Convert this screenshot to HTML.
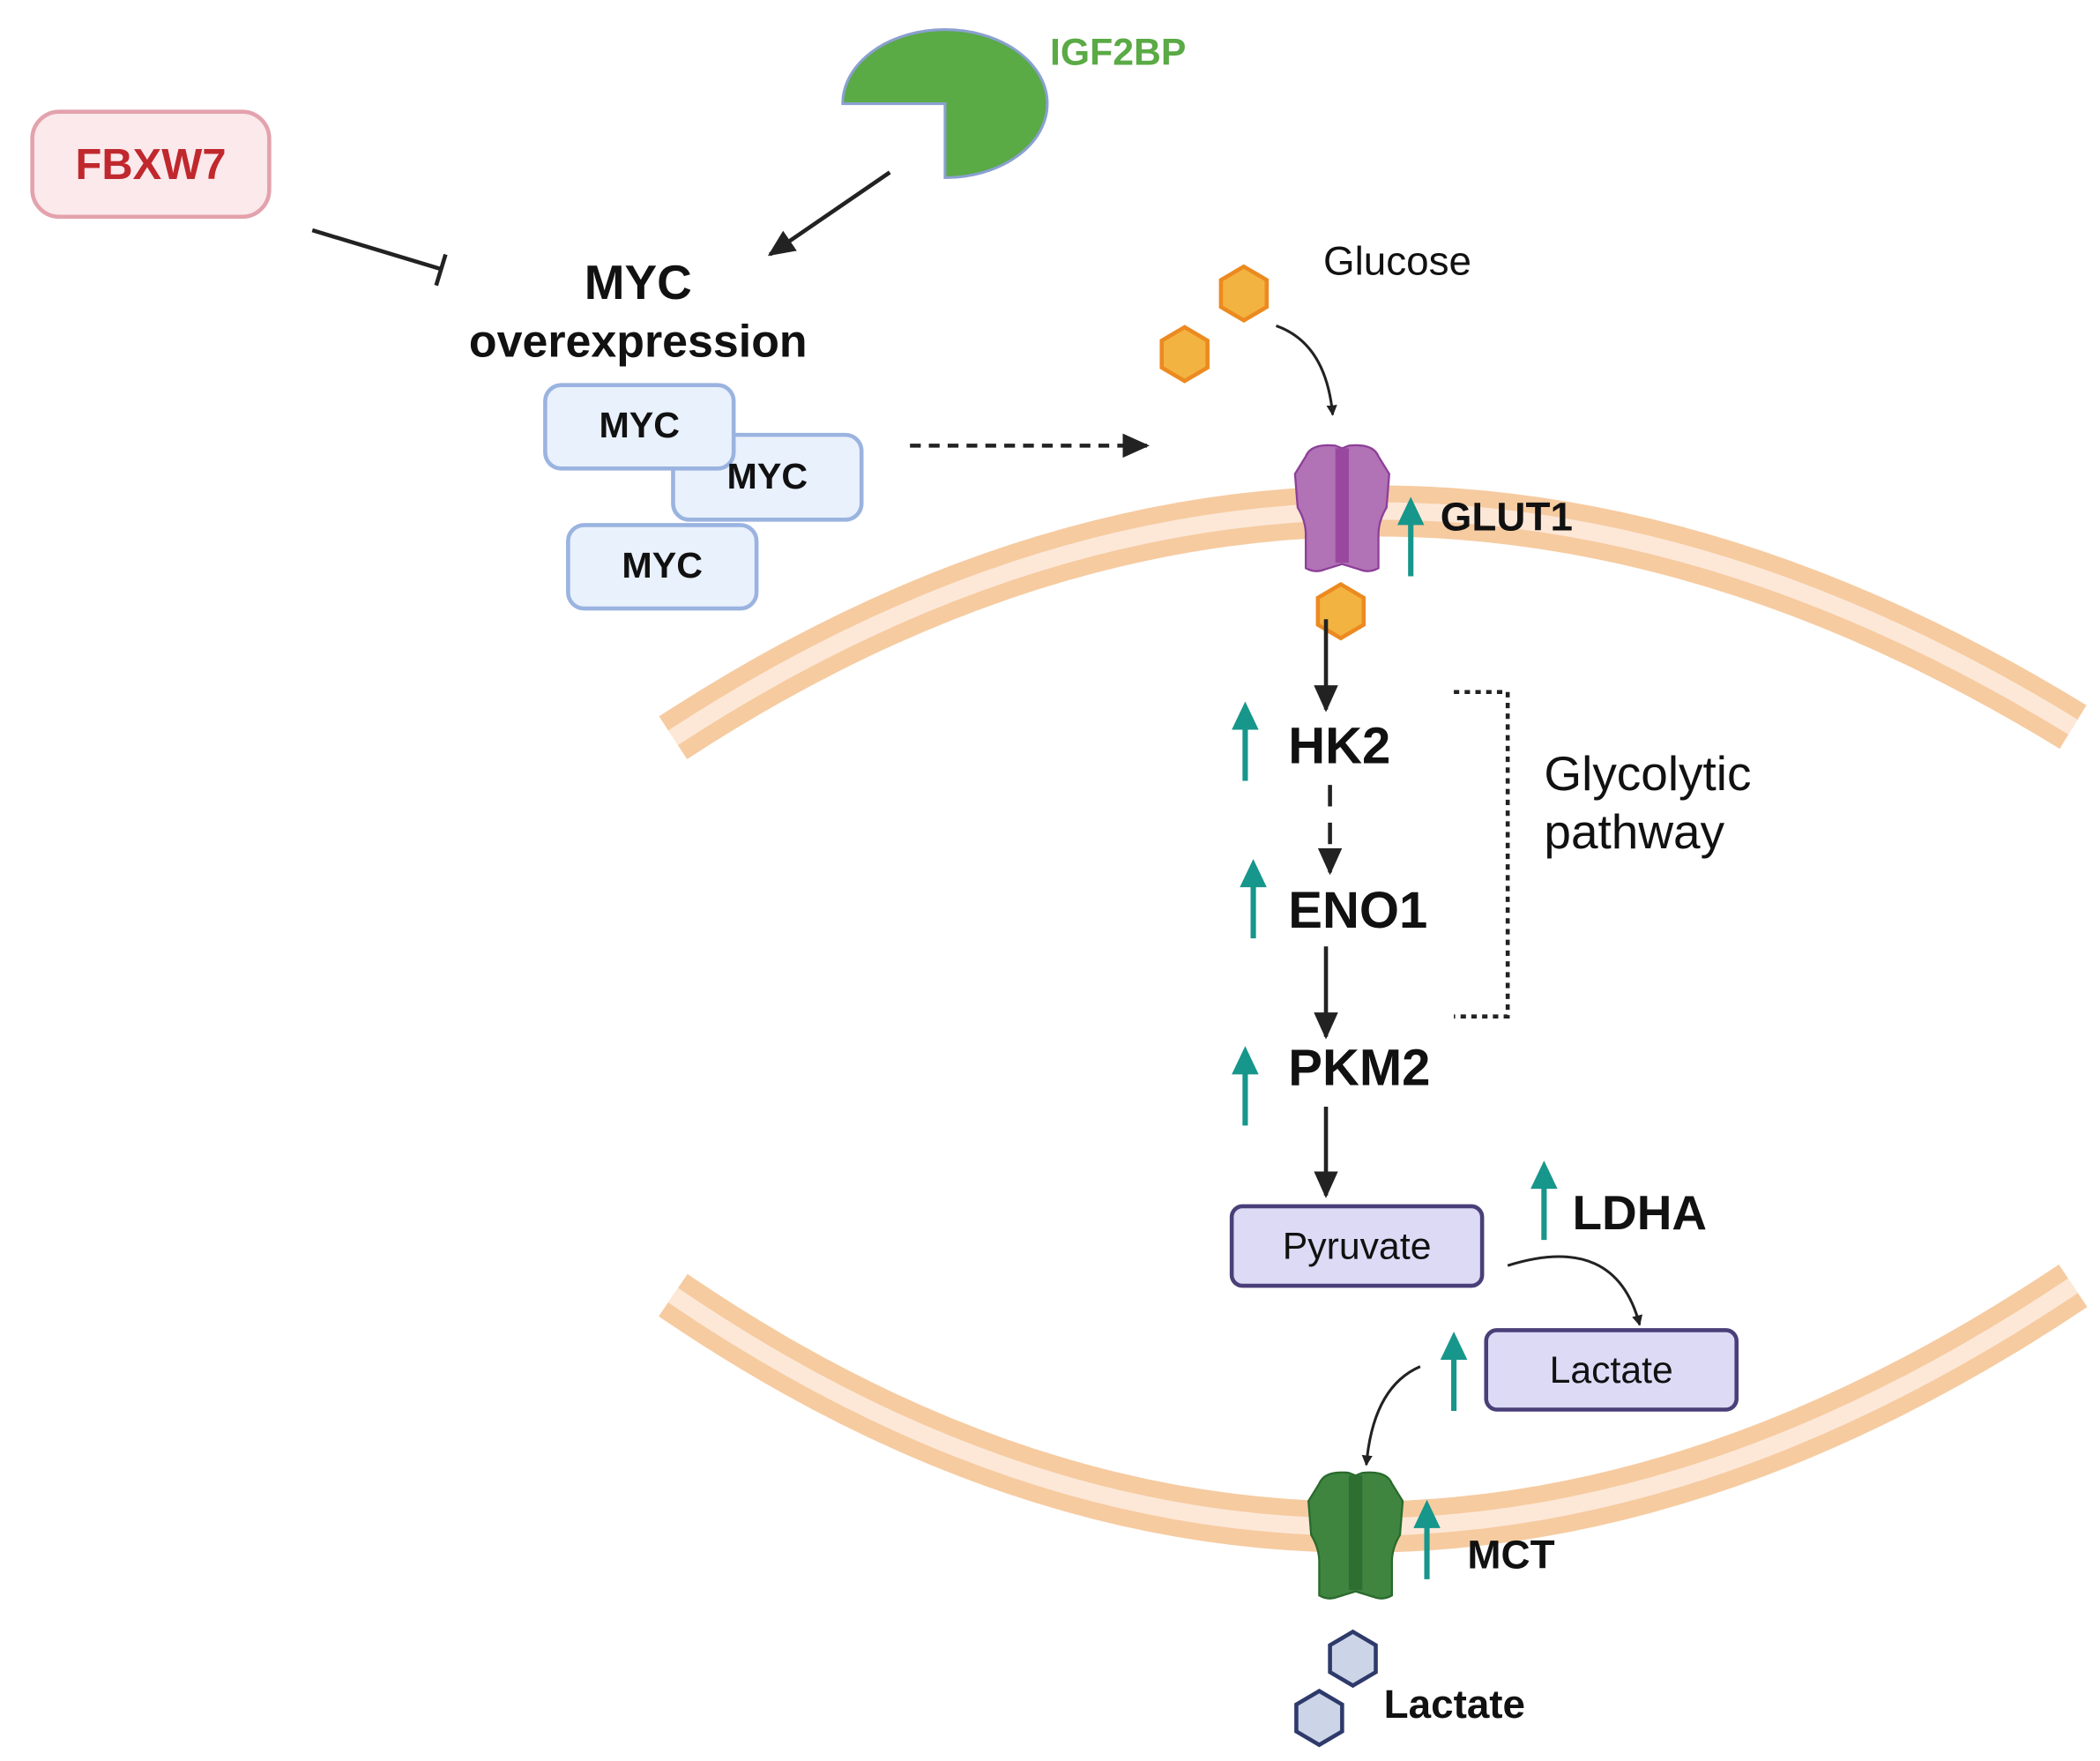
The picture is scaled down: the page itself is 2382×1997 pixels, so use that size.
<!DOCTYPE html>
<html><head><meta charset="utf-8"><style>
html,body{margin:0;padding:0;background:#fff}
svg{display:block}
text{font-family:"Liberation Sans",sans-serif}
</style></head><body>
<svg width="2382" height="1997" viewBox="0 0 1560 1308" preserveAspectRatio="none" xmlns="http://www.w3.org/2000/svg">
<defs>
<marker id="ah" markerWidth="10" markerHeight="10" refX="8" refY="5" orient="auto" markerUnits="userSpaceOnUse"><path d="M0,0 L10,5 L0,10 Z" fill="#222"/></marker>
<marker id="ahs" markerWidth="8" markerHeight="8" refX="7" refY="4" orient="auto" markerUnits="userSpaceOnUse"><path d="M0,0 L8,4 L0,8 Z" fill="#222"/></marker>
<marker id="ahb" markerWidth="20" markerHeight="18" refX="18" refY="9" orient="auto" markerUnits="userSpaceOnUse"><path d="M0,0 L20,9 L0,18 Z" fill="#222"/></marker>
<g id="tp"><path d="M8,12 Q12,2 30,4 L35,6 L40,4 Q58,2 62,12 L70,25 L68,50 Q62,60 62,70 L62,95 Q55,99 48,96 L35,92 L22,96 Q15,99 8,95 L8,70 Q8,60 2,50 L0,25 Z"/></g>
</defs>
<!-- membranes -->
<path d="M500,548 Q1010,215 1540,540" fill="none" stroke="#f6cba0" stroke-width="38"/>
<path d="M500,548 Q1010,215 1540,540" fill="none" stroke="#fde8d8" stroke-width="13"/>
<path d="M500,962 Q1010,1310 1540,955" fill="none" stroke="#f6cba0" stroke-width="38"/>
<path d="M500,962 Q1010,1310 1540,955" fill="none" stroke="#fde8d8" stroke-width="13"/>

<!-- FBXW7 -->
<rect x="24" y="83" width="176" height="78" rx="20" fill="#fbe9ec" stroke="#e3a2ad" stroke-width="3"/>
<text x="112" y="133" text-anchor="middle" font-size="32" font-weight="bold" fill="#c0282d">FBXW7</text>
<line x1="232" y1="171" x2="328" y2="200" stroke="#222" stroke-width="3"/>
<line x1="324" y1="212" x2="331" y2="189" stroke="#222" stroke-width="3"/>

<!-- IGF2BP -->
<path d="M702,77 L626,77 A76,55 0 1 1 702,132 Z" fill="#5aaa45" stroke="#8aa0d0" stroke-width="2"/>
<text x="780" y="48" font-size="28" font-weight="bold" fill="#5aaa45">IGF2BP</text>
<line x1="661" y1="128" x2="572" y2="189" stroke="#222" stroke-width="3" marker-end="url(#ahb)"/>

<text x="474" y="222" text-anchor="middle" font-size="36" font-weight="bold" fill="#111">MYC</text>
<text x="474" y="265" text-anchor="middle" font-size="34" font-weight="bold" fill="#111">overexpression</text>

<g fill="#e9f1fc" stroke="#9ab3e0" stroke-width="3">
<rect x="500" y="323" width="140" height="63" rx="12"/>
<rect x="405" y="286" width="140" height="62" rx="12"/>
<rect x="422" y="390" width="140" height="62" rx="12"/>
</g>
<g font-size="27" font-weight="bold" fill="#111" text-anchor="middle">
<text x="475" y="325">MYC</text>
<text x="570" y="363">MYC</text>
<text x="492" y="429">MYC</text>
</g>
<line x1="676" y1="331" x2="852" y2="331" stroke="#222" stroke-width="3" stroke-dasharray="8,6" marker-end="url(#ahb)"/>

<!-- glucose -->
<g fill="#f3b341" stroke="#ec8a20" stroke-width="3">
<polygon points="924,198 941,208 941,228 924,238 907,228 907,208"/>
<polygon points="880,243 897,253 897,273 880,283 863,273 863,253"/>
<polygon points="996,434 1013,444 1013,464 996,474 979,464 979,444"/>
</g>
<text x="983" y="204" font-size="30" fill="#111">Glucose</text>
<path d="M948,242 Q985,255 990,308" fill="none" stroke="#222" stroke-width="2" marker-end="url(#ahs)"/>

<!-- GLUT1 -->
<use href="#tp" x="962" y="327" fill="#b172b6" stroke="#8c3f97" stroke-width="1.5"/>
<rect x="992" y="333" width="10" height="85" fill="#99489f"/>
<text x="1070" y="394" font-size="30" font-weight="bold" fill="#111">GLUT1</text>

<!-- teal arrows -->
<g stroke="#17968b" stroke-width="4" fill="#17968b">
<line x1="1048" y1="428" x2="1048" y2="385"/><polygon points="1038,390 1048,369 1058,390" stroke="none"/>
<line x1="925" y1="580" x2="925" y2="537"/><polygon points="915,542 925,521 935,542" stroke="none"/>
<line x1="931" y1="697" x2="931" y2="654"/><polygon points="921,659 931,638 941,659" stroke="none"/>
<line x1="925" y1="836" x2="925" y2="793"/><polygon points="915,798 925,777 935,798" stroke="none"/>
<line x1="1147" y1="921" x2="1147" y2="878"/><polygon points="1137,883 1147,862 1157,883" stroke="none"/>
<line x1="1080" y1="1048" x2="1080" y2="1005"/><polygon points="1070,1010 1080,989 1090,1010" stroke="none"/>
<line x1="1060" y1="1173" x2="1060" y2="1130"/><polygon points="1050,1135 1060,1114 1070,1135" stroke="none"/>
</g>

<!-- pathway -->
<line x1="985" y1="460" x2="985" y2="527" stroke="#222" stroke-width="3" marker-end="url(#ahb)"/>
<text x="957" y="567" font-size="38" font-weight="bold" fill="#111">HK2</text>
<line x1="988" y1="583" x2="988" y2="648" stroke="#222" stroke-width="3" stroke-dasharray="16,12" marker-end="url(#ahb)"/>
<text x="957" y="689" font-size="38" font-weight="bold" fill="#111">ENO1</text>
<line x1="985" y1="703" x2="985" y2="770" stroke="#222" stroke-width="3" marker-end="url(#ahb)"/>
<text x="957" y="806" font-size="38" font-weight="bold" fill="#111">PKM2</text>
<line x1="985" y1="822" x2="985" y2="888" stroke="#222" stroke-width="3" marker-end="url(#ahb)"/>
<path d="M1080,514 L1120,514 L1120,755 L1080,755" fill="none" stroke="#222" stroke-width="3" stroke-dasharray="4,4"/>
<text x="1147" y="587" font-size="36" fill="#111">Glycolytic</text>
<text x="1147" y="630" font-size="36" fill="#111">pathway</text>
<text x="1168" y="913" font-size="36" font-weight="bold" fill="#111">LDHA</text>

<rect x="915" y="896" width="186" height="59" rx="8" fill="#dcdaf5" stroke="#4a3f78" stroke-width="3"/>
<text x="1008" y="935" text-anchor="middle" font-size="28" fill="#111">Pyruvate</text>
<rect x="1104" y="988" width="186" height="59" rx="8" fill="#dcdaf5" stroke="#4a3f78" stroke-width="3"/>
<text x="1197" y="1027" text-anchor="middle" font-size="28" fill="#111">Lactate</text>
<path d="M1120,940 Q1200,915 1218,984" fill="none" stroke="#222" stroke-width="2" marker-end="url(#ahs)"/>
<path d="M1055,1015 Q1020,1030 1015,1088" fill="none" stroke="#222" stroke-width="2" marker-end="url(#ahs)"/>

<!-- MCT -->
<use href="#tp" x="972" y="1090" fill="#3f8540" stroke="#2a6a2d" stroke-width="1.5"/>
<rect x="1002" y="1096" width="10" height="85" fill="#2e6e31"/>
<text x="1090" y="1165" font-size="30" font-weight="bold" fill="#111">MCT</text>
<g fill="#ccd4e8" stroke="#2e3a6a" stroke-width="3">
<polygon points="1005,1212 1022,1222 1022,1242 1005,1252 988,1242 988,1222"/>
<polygon points="980,1256 997,1266 997,1286 980,1296 963,1286 963,1266"/>
</g>
<text x="1028" y="1276" font-size="30" font-weight="bold" fill="#111">Lactate</text>
</svg>
</body></html>
